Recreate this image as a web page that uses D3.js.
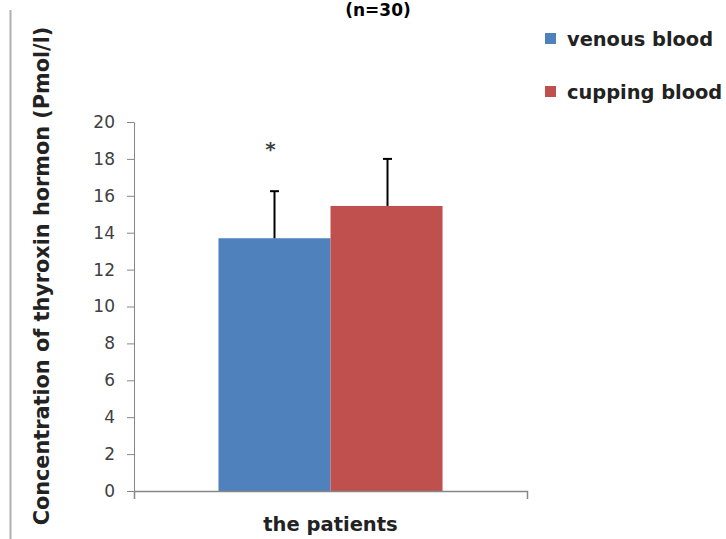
<!DOCTYPE html>
<html>
<head>
<meta charset="utf-8">
<script src="https://cdn.jsdelivr.net/npm/d3@7"></script>
<style>
  body { margin: 0; background: #fff; }
  svg { display: block; font-family: "DejaVu Sans", Verdana, sans-serif; }
</style>
</head>
<body>
<div id="chart"></div>
<script>
// data
var CATEGORIES = ['the patients'];
var SERIES = ['venous blood', 'cupping blood'];
var MEANS = [13.7, 15.45];
var ERRORS = [2.55, 2.55];
var MARKS = ['*', ''];
var Y_TICKS = [0, 2, 4, 6, 8, 10, 12, 14, 16, 18, 20];

var COLORS = ['#4f81bd', '#c0504d'];
var AXIS_COLOR = '#868686';

var WIDTH = 726, HEIGHT = 539;
var margin = { top: 122, left: 134, bottom: 48, right: 199 };

var svg = d3.select('#chart').append('svg')
    .attr('width', WIDTH)
    .attr('height', HEIGHT);

var sy = d3.scaleLinear()
    .domain([0, 20])
    .range([HEIGHT - margin.bottom, margin.top]);
var sx = d3.scaleBand()
    .domain(CATEGORIES)
    .range([margin.left, WIDTH - margin.right])
    .paddingOuter(0.377);
var sb = d3.scaleBand()
    .domain(SERIES)
    .range([0, sx.bandwidth()]);

// page border line on the left
svg.append('line')
    .attr('x1', 10.5).attr('x2', 10.5)
    .attr('y1', 10).attr('y2', HEIGHT)
    .attr('stroke', '#b0b0b0')
    .attr('stroke-width', 2);

// title (top of it is cut off in the source)
svg.append('text')
    .attr('x', 378)
    .attr('y', 16)
    .attr('text-anchor', 'middle')
    .attr('font-weight', 'bold')
    .attr('font-size', 17)
    .attr('fill', '#000')
    .text('(n=30)');

// bars
var rows = SERIES.map(function(s, i) {
    return { series: s, mean: MEANS[i], err: ERRORS[i], mark: MARKS[i], color: COLORS[i] };
});

var g = svg.append('g');
g.selectAll('rect.bar').data(rows).enter()
    .append('rect')
    .attr('class', 'bar')
    .attr('x', function(d) { return sx(CATEGORIES[0]) + sb(d.series); })
    .attr('y', function(d) { return sy(d.mean); })
    .attr('width', sb.bandwidth())
    .attr('height', function(d) { return sy(0) - sy(d.mean); })
    .attr('fill', function(d) { return d.color; });

// error bars (upper only)
function cx(d) { return Math.round(sx(CATEGORIES[0]) + sb(d.series) + sb.bandwidth() / 2) + 0.5; }
g.selectAll('line.err').data(rows).enter()
    .append('line')
    .attr('class', 'err')
    .attr('x1', cx).attr('x2', cx)
    .attr('y1', function(d) { return sy(d.mean); })
    .attr('y2', function(d) { return sy(d.mean + d.err); })
    .attr('stroke', '#000')
    .attr('stroke-width', 2);
g.selectAll('line.cap').data(rows).enter()
    .append('line')
    .attr('class', 'cap')
    .attr('x1', function(d) { return cx(d) - 4.5; })
    .attr('x2', function(d) { return cx(d) + 4.5; })
    .attr('y1', function(d) { return sy(d.mean + d.err); })
    .attr('y2', function(d) { return sy(d.mean + d.err); })
    .attr('stroke', '#000')
    .attr('stroke-width', 2);

g.selectAll('text.mark').data(rows).enter()
    .append('text')
    .attr('class', 'mark')
    .attr('x', function(d) { return cx(d) - 4; })
    .attr('y', function(d) { return sy(d.mean + d.err) - 35; })
    .attr('text-anchor', 'middle')
    .attr('font-size', 20)
    .attr('font-weight', 'bold')
    .attr('fill', '#404040')
    .text(function(d) { return d.mark; });

// y axis
var ay = d3.axisLeft(sy)
    .tickValues(Y_TICKS)
    .tickSize(7)
    .tickPadding(12)
    .tickSizeOuter(0);
var gy = svg.append('g')
    .attr('transform', 'translate(' + margin.left + ',0)')
    .call(ay);
gy.select('.domain').attr('stroke', AXIS_COLOR);
gy.selectAll('.tick line').attr('stroke', AXIS_COLOR);
gy.selectAll('.tick text')
    .attr('font-family', '"DejaVu Sans", Verdana, sans-serif')
    .attr('font-size', 17)
    .attr('fill', '#404040');

// x axis
var ax = d3.axisBottom(sx)
    .tickValues([])
    .tickSizeOuter(8);
var gx = svg.append('g')
    .attr('transform', 'translate(0,' + sy(0) + ')')
    .call(ax);
gx.select('.domain').attr('stroke', AXIS_COLOR).attr('stroke-width', 1.5);

svg.append('text')
    .attr('x', sx(CATEGORIES[0]) + sx.bandwidth() / 2)
    .attr('y', 531)
    .attr('text-anchor', 'middle')
    .attr('font-weight', 'bold')
    .attr('font-size', 19.5)
    .attr('fill', '#222')
    .text(CATEGORIES[0]);

// y title
svg.append('text')
    .attr('transform', 'translate(49,' + 276 + ') rotate(-90)')
    .attr('text-anchor', 'middle')
    .attr('font-weight', 'bold')
    .attr('font-size', 20.8)
    .attr('fill', '#222')
    .text('Concentration of thyroxin hormon (Pmol/l)');

// legend
var leg = svg.selectAll('g.legend').data(rows).enter()
    .append('g')
    .attr('class', 'legend')
    .attr('transform', function(d, i) { return 'translate(545,' + (33 + i * 53) + ')'; });
leg.append('rect')
    .attr('width', 11).attr('height', 11)
    .attr('fill', function(d) { return d.color; });
leg.append('text')
    .attr('x', 22)
    .attr('y', 13)
    .attr('font-weight', 'bold')
    .attr('font-size', 19.4)
    .attr('fill', '#222')
    .text(function(d) { return d.series; });
</script>
</body>
</html>
